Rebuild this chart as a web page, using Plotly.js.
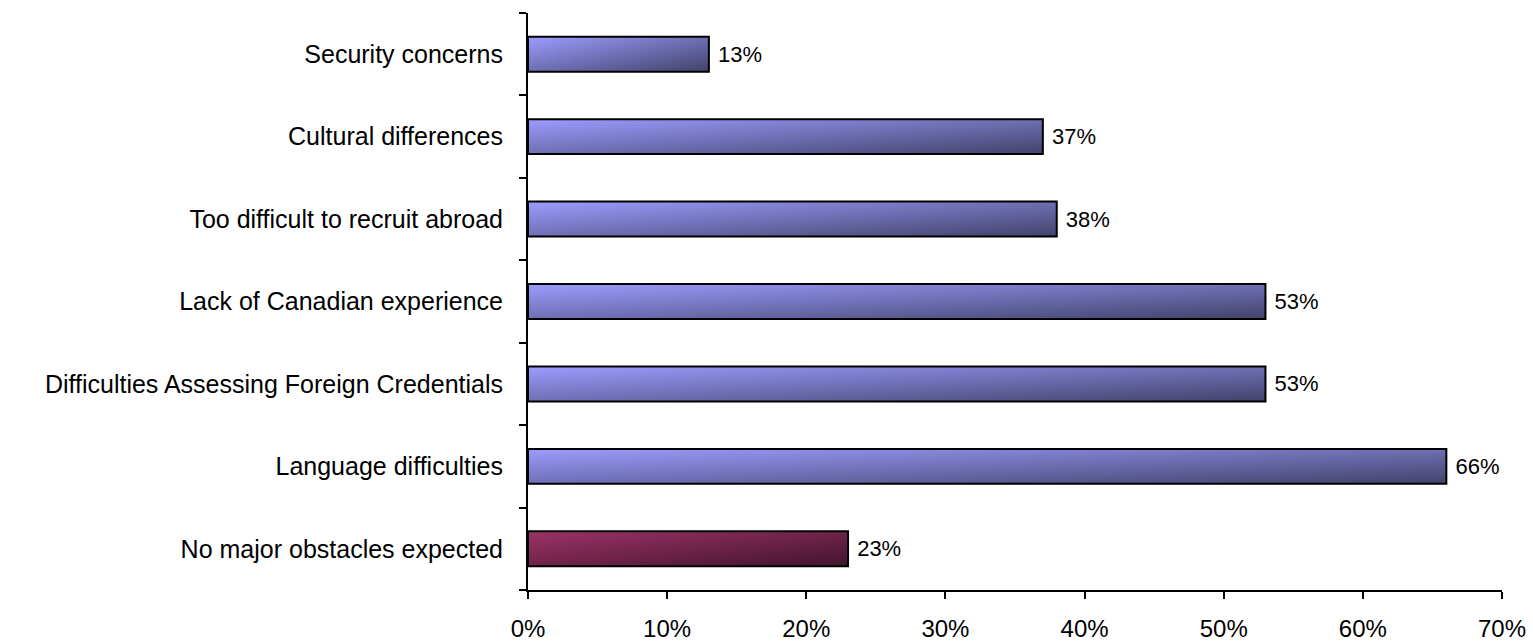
<!DOCTYPE html>
<html>
<head>
<meta charset="utf-8">
<script src="https://cdn.plot.ly/plotly-3.0.1.min.js"></script>
<style>
  html, body { margin: 0; padding: 0; background: #ffffff; }
  #chart { width: 1533px; height: 642px; }
</style>
</head>
<body>
<div id="chart"></div>
<script>
// Categories listed bottom to top
const categories = [
  "No major obstacles expected",
  "Language difficulties",
  "Difficulties Assessing Foreign Credentials",
  "Lack of Canadian experience",
  "Too difficult to recruit abroad",
  "Cultural differences",
  "Security concerns"
];
const values = [23, 66, 53, 53, 38, 37, 13];
const barColors = ["#7a2a55", "#7272c8", "#7272c8", "#7272c8", "#7272c8", "#7272c8", "#7272c8"];
const gradientIds = ["gMaroon", "gBlue", "gBlue", "gBlue", "gBlue", "gBlue", "gBlue"];
const xTickVals = [0, 10, 20, 30, 40, 50, 60, 70];

const FONT = '"Liberation Sans", Arial, sans-serif';

const trace = {
  type: 'bar',
  orientation: 'h',
  y: categories,
  x: values,
  marker: { color: barColors, line: { color: '#000000', width: 2 } },
  text: values.map(v => '\u00a0' + v + '%'),
  texttemplate: '%{text}',
  textposition: 'outside',
  cliponaxis: false,
  textfont: { family: FONT, size: 22, color: '#000000' },
  hoverinfo: 'none'
};

const layout = {
  width: 1533,
  height: 642,
  margin: { l: 528, r: 31, t: 13, b: 52, pad: 0 },
  paper_bgcolor: '#ffffff',
  plot_bgcolor: '#ffffff',
  showlegend: false,
  bargap: 0.576,
  font: { family: FONT, color: '#000000' },
  xaxis: {
    range: [0, 70],
    tickvals: xTickVals,
    ticktext: xTickVals.map(v => v + '%'),
    showgrid: false,
    zeroline: false,
    showline: true,
    linecolor: '#000000',
    linewidth: 2,
    ticks: 'outside',
    ticklen: 7,
    tickwidth: 2,
    tickcolor: '#000000',
    tickfont: { family: FONT, size: 24, color: '#000000' },
    ticklabelstandoff: 9,
    fixedrange: true
  },
  yaxis: {
    type: 'category',
    categoryorder: 'array',
    categoryarray: categories,
    range: [-0.5, 6.5],
    showgrid: false,
    zeroline: false,
    showline: true,
    linecolor: '#000000',
    linewidth: 2,
    ticks: 'outside',
    tickson: 'boundaries',
    ticklen: 7,
    tickwidth: 2,
    tickcolor: '#000000',
    tickfont: { family: FONT, size: 25, color: '#000000' },
    ticklabelstandoff: 18,
    fixedrange: true
  }
};

function addGradients(gd) {
  const svg = gd.querySelector('svg.main-svg');
  if (!svg) return;
  const NS = 'http://www.w3.org/2000/svg';
  let defs = svg.querySelector('defs');
  if (!defs) { defs = document.createElementNS(NS, 'defs'); svg.insertBefore(defs, svg.firstChild); }
  const grads = {
    gBlue: ['#9c9cff', '#42426a'],
    gMaroon: ['#9c3366', '#42142c']
  };
  Object.keys(grads).forEach(id => {
    const lg = document.createElementNS(NS, 'linearGradient');
    lg.setAttribute('id', id);
    lg.setAttribute('x1', '0'); lg.setAttribute('y1', '0');
    lg.setAttribute('x2', '1'); lg.setAttribute('y2', '1');
    const s1 = document.createElementNS(NS, 'stop');
    s1.setAttribute('offset', '0'); s1.setAttribute('stop-color', grads[id][0]);
    const s2 = document.createElementNS(NS, 'stop');
    s2.setAttribute('offset', '1'); s2.setAttribute('stop-color', grads[id][1]);
    lg.appendChild(s1); lg.appendChild(s2);
    defs.appendChild(lg);
  });
  const paths = gd.querySelectorAll('.barlayer .trace .points .point path');
  paths.forEach((p, i) => {
    if (gradientIds[i]) p.style.fill = 'url(#' + gradientIds[i] + ')';
  });
}

Plotly.newPlot('chart', [trace], layout, { displayModeBar: false, staticPlot: true })
  .then(gd => addGradients(gd));
</script>
</body>
</html>
